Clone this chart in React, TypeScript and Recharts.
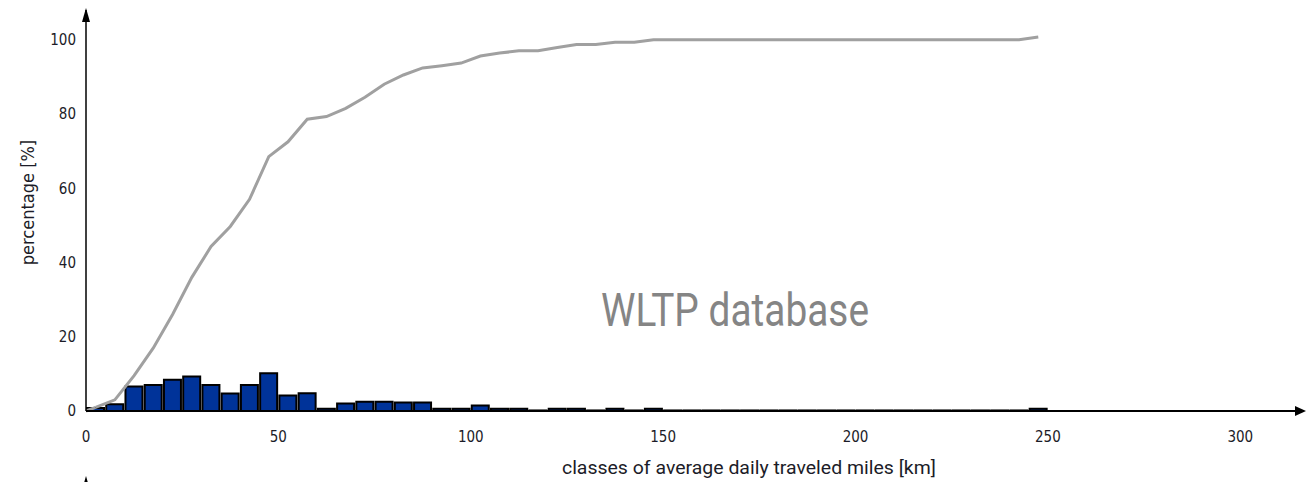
import React from "react";
import {
  ComposedChart, Bar, Line, XAxis, YAxis, Label, ReferenceLine,
} from "recharts";

// class centres of the 5 km distance bins [km]
const binCenters = [
  2.5, 7.5, 12.5, 17.5, 22.5, 27.5, 32.5, 37.5, 42.5, 47.5,
  52.5, 57.5, 62.5, 67.5, 72.5, 77.5, 82.5, 87.5, 92.5, 97.5,
  102.5, 107.5, 112.5, 117.5, 122.5, 127.5, 132.5, 137.5, 142.5, 147.5,
  152.5, 157.5, 162.5, 167.5, 172.5, 177.5, 182.5, 187.5, 192.5, 197.5,
  202.5, 207.5, 212.5, 217.5, 222.5, 227.5, 232.5, 237.5, 242.5, 247.5,
];

// share of vehicles per class [%]
const classShare = [
  0.8, 1.8, 6.6, 7.0, 8.4, 9.3, 7.0, 4.7, 7.0, 10.2,
  4.2, 4.8, 0.6, 2.0, 2.5, 2.5, 2.3, 2.3, 0.6, 0.6,
  1.5, 0.6, 0.6, 0.15, 0.6, 0.6, 0.15, 0.6, 0.15, 0.6,
  0.15, 0.15, 0.15, 0.15, 0.15, 0.15, 0.15, 0.15, 0.15, 0.15,
  0.15, 0.15, 0.15, 0.15, 0.15, 0.15, 0.15, 0.15, 0.15, 0.6,
];

// cumulative share [%]
const cumulative = [
  1.0, 3.0, 9.5, 17, 26, 36, 44.3, 49.7, 57, 68.5,
  72.5, 78.6, 79.3, 81.5, 84.5, 88, 90.5, 92.4, 93.0, 93.7,
  95.6, 96.4, 97.0, 97.0, 97.9, 98.7, 98.7, 99.3, 99.3, 100,
  100, 100, 100, 100, 100, 100, 100, 100, 100, 100,
  100, 100, 100, 100, 100, 100, 100, 100, 100, 100.7,
];

const xTicks = [0, 50, 100, 150, 200, 250, 300];
const yTicks = [0, 20, 40, 60, 80, 100];

const rows = binCenters.map((km, i) => ({ km, share: classShare[i], cum: cumulative[i] }));

const FONT = '"Liberation Sans Narrow", "DejaVu Sans Condensed", "Roboto", sans-serif';
const INK = "#1c1c28";
const tickStyle = { fontFamily: FONT, fontSize: 15, fill: INK, fontWeight: 500 };
const CURVE = "#a0a0a0";

export default function App() {
  return (
    <div style={{ position: "absolute", left: 0, top: 0, width: 1306, height: 482, background: "#fff" }}>
      <style>{`body{margin:0}`}</style>
      <ComposedChart
        width={1306}
        height={482}
        data={rows}
        margin={{ top: 10, right: 8, left: 26, bottom: 0 }}
      >
        <XAxis
          type="number"
          dataKey="km"
          domain={[0, 315]}
          ticks={xTicks}
          tickLine={false}
          tickSize={0}
          tickMargin={20}
          height={71}
          axisLine={{ stroke: "#000", strokeWidth: 2 }}
          tick={tickStyle}
        >
          <Label
            content={({ viewBox }: any) => (
              <text
                x={viewBox.x + viewBox.width * 0.547}
                y={viewBox.y + viewBox.height - 8}
                textAnchor="middle"
                textLength={374}
                lengthAdjust="spacingAndGlyphs"
                style={{ fontFamily: "Roboto, sans-serif", fontSize: 18, fill: INK }}
              >
                classes of average daily traveled miles [km]
              </text>
            )}
          />
        </XAxis>
        <YAxis
          domain={[0, 108]}
          ticks={yTicks}
          tickLine={false}
          tickSize={0}
          tickMargin={10}
          width={60}
          axisLine={{ stroke: "#000", strokeWidth: 1.5 }}
          tick={tickStyle}
        >
          <Label
            value="percentage  [%]"
            angle={-90}
            position="insideLeft"
            offset={2}
            dy={-8}
            style={{ fontFamily: FONT, fontSize: 18, fill: INK, textAnchor: "middle" }}
          />
        </YAxis>
        <Bar
          dataKey="share"
          barSize={17}
          fill="#003399"
          stroke="#000"
          strokeWidth={2}
          isAnimationActive={false}
        />
        {/* curve starts at the origin */}
        <ReferenceLine
          segment={[{ x: 0, y: 0 }, { x: binCenters[0], y: cumulative[0] }]}
          stroke={CURVE}
          strokeWidth={3}
        />
        <Line
          dataKey="cum"
          type="linear"
          stroke={CURVE}
          strokeWidth={3}
          dot={false}
          activeDot={false}
          isAnimationActive={false}
        />
        <text
          x={601}
          y={326}
          textLength={268}
          lengthAdjust="spacingAndGlyphs"
          style={{ fontFamily: "Roboto, sans-serif", fontSize: 47, fill: "#858585" }}
        >
          WLTP database
        </text>
      </ComposedChart>
      {/* axis arrow heads */}
      <svg
        width={1306}
        height={482}
        style={{ position: "absolute", left: 0, top: 0, pointerEvents: "none" }}
      >
        <polygon points="86,8 82,22 90,22" fill="#000" />
        <polygon points="1306,411 1295,406 1295,416" fill="#000" />
        <polygon points="86,476 82,490 90,490" fill="#000" />
      </svg>
    </div>
  );
}
